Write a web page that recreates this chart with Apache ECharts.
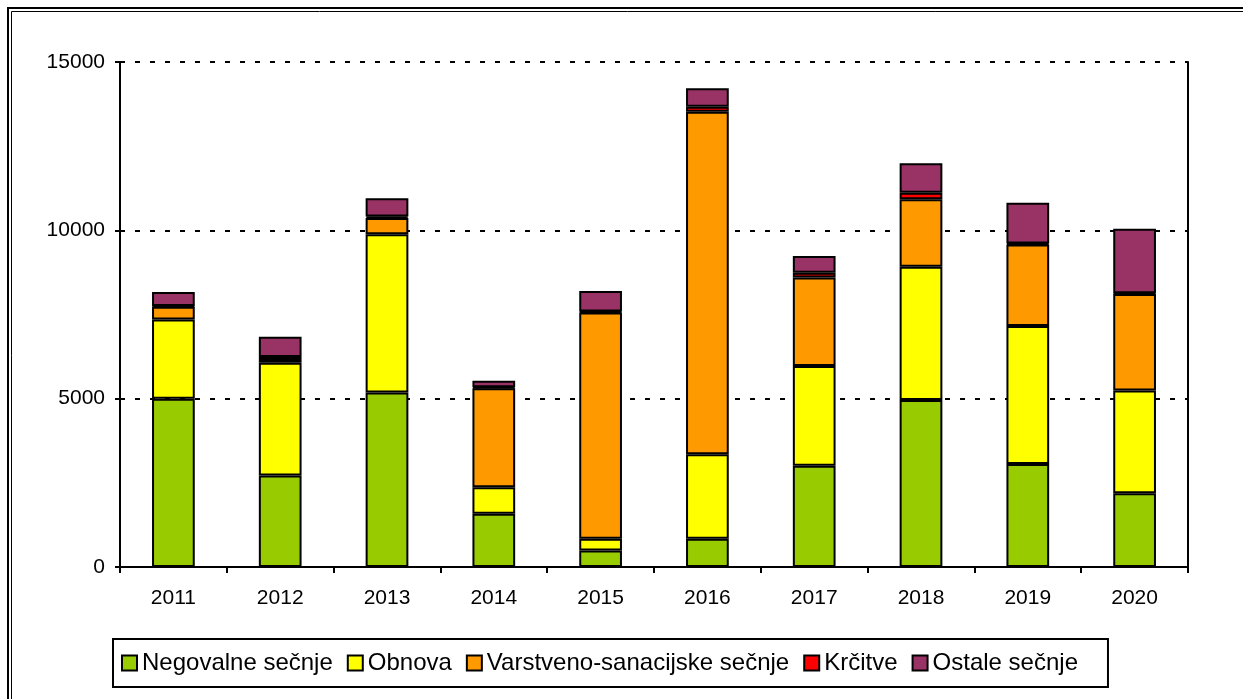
<!DOCTYPE html>
<html>
<head>
<meta charset="utf-8">
<script src="https://cdn.jsdelivr.net/npm/echarts@6/dist/echarts.min.js"></script>
<style>
  html, body { margin: 0; padding: 0; background: #fff; }
  #chart { width: 1243px; height: 699px; }
</style>
</head>
<body>
<div id="chart"></div>
<script>
// Years shown on the category axis
const years = ['2011', '2012', '2013', '2014', '2015', '2016', '2017', '2018', '2019', '2020'];

// Felling volumes by type (stacked per year)
const negovalne = [5000, 2720, 5180, 1580, 490, 840, 3010, 4960, 3060, 2190];
const obnova = [2350, 3350, 4700, 790, 350, 2510, 2960, 3960, 4100, 3050];
const varstveno = [380, 110, 490, 2940, 6720, 10170, 2630, 2000, 2420, 2870];
const krcitve = [20, 60, 40, 30, 30, 150, 140, 200, 30, 20];
const ostale = [420, 600, 540, 190, 610, 550, 500, 870, 1210, 1920];

// Value axis ticks
const yTicks = [0, 5000, 10000, 15000];

const seriesNames = ['Negovalne sečnje', 'Obnova', 'Varstveno-sanacijske sečnje', 'Krčitve', 'Ostale sečnje'];
const seriesData = [negovalne, obnova, varstveno, krcitve, ostale];
const seriesColors = ['#99CC00', '#FFFF00', '#FF9900', '#FF0000', '#993366'];

const FONT = '"Liberation Sans", Arial, sans-serif';

const chart = echarts.init(document.getElementById('chart'), null, { renderer: 'canvas' });

chart.setOption({
  animation: false,
  backgroundColor: '#ffffff',
  textStyle: { fontFamily: FONT, color: '#000' },
  grid: { left: 120, right: 55, top: 62, bottom: 132, containLabel: false },
  legend: {
    data: seriesNames,
    left: 113,
    top: 639,
    orient: 'horizontal',
    icon: 'rect',
    itemWidth: 15,
    itemHeight: 15,
    itemGap: 14,
    padding: [12, 30, 12, 8],
    borderColor: '#000',
    borderWidth: 2,
    backgroundColor: '#fff',
    textStyle: { fontFamily: FONT, fontSize: 24, color: '#000', lineHeight: 18 },
    itemStyle: { borderColor: '#000', borderWidth: 2 }
  },
  xAxis: {
    type: 'category',
    data: years,
    boundaryGap: true,
    axisLine: { show: true, lineStyle: { color: '#000', width: 2 } },
    axisTick: { show: true, inside: false, length: 6, lineStyle: { color: '#000', width: 2 } },
    axisLabel: { color: '#000', fontFamily: FONT, fontSize: 21, margin: 21 },
    splitLine: { show: false }
  },
  yAxis: [
    {
      type: 'value',
      min: yTicks[0],
      max: yTicks[yTicks.length - 1],
      interval: yTicks[1] - yTicks[0],
      axisLine: { show: true, lineStyle: { color: '#000', width: 2 } },
      axisTick: { show: true, inside: false, length: 5, lineStyle: { color: '#000', width: 2 } },
      axisLabel: {
        color: '#000', fontFamily: FONT, fontSize: 21, margin: 15,
        formatter: (v) => String(v)
      },
      splitLine: { show: true, lineStyle: { color: '#000', width: 2, type: [5, 10] } }
    },
    {
      // right-hand frame of the plot area
      type: 'value',
      position: 'right',
      min: yTicks[0],
      max: yTicks[yTicks.length - 1],
      interval: yTicks[1] - yTicks[0],
      axisLine: { show: true, lineStyle: { color: '#000', width: 2 } },
      axisTick: { show: false },
      axisLabel: { show: false },
      splitLine: { show: false }
    }
  ],
  series: seriesNames.map((name, i) => ({
    name: name,
    type: 'bar',
    stack: 'total',
    barWidth: '40%',
    data: seriesData[i],
    itemStyle: { color: seriesColors[i], borderColor: '#000', borderWidth: 2 },
    emphasis: { disabled: true }
  })),
  graphic: [
    {
      type: 'rect',
      shape: { x: 8, y: 8, width: 1260, height: 720 },
      style: { fill: null, stroke: '#000', lineWidth: 2 },
      silent: true
    },
    {
      type: 'rect',
      shape: { x: 11.5, y: 11.5, width: 1260, height: 720 },
      style: { fill: null, stroke: '#000', lineWidth: 1 },
      silent: true
    }
  ]
});
</script>
</body>
</html>
